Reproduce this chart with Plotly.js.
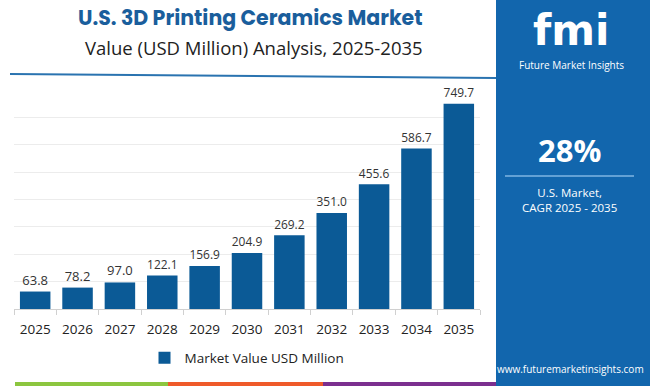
<!DOCTYPE html>
<html>
<head>
<meta charset="utf-8">
<script src="https://cdn.plot.ly/plotly-3.0.1.min.js"></script>
<style>html,body{margin:0;padding:0;background:#fff;}#chart{width:650px;height:386px;}</style>
</head>
<body>
<div id="chart"></div>
<script>
const years = ["2025","2026","2027","2028","2029","2030","2031","2032","2033","2034","2035"];
const marketValues = [63.8, 78.2, 97.0, 122.1, 156.9, 204.9, 269.2, 351.0, 455.6, 586.7, 749.7];
const seriesName = "Market Value USD Million";
const titleText = "U.S. 3D Printing Ceramics Market";
const subtitleText = "Value (USD Million) Analysis, 2025-2035";
const cagrText = "28%";
const cagrLabel = "U.S. Market,<br>CAGR 2025 - 2035";

const barColor = "#0b5a96";
const font = "Open Sans, Roboto, sans-serif";

// plot area in pixels
const L = 14, R = 170, T = 90, B = 77;
const W = 650 - L - R, H = 386 - T - B;
const px = x => (x - L) / W;
const py = y => (386 - B - y) / H;

const trace = {
  type: "bar",
  x: years,
  y: marketValues,
  name: seriesName,
  marker: {color: barColor},
  text: marketValues.map(v => v.toFixed(1)),
  textposition: "outside",
  textfont: {family: font, size: 13, color: "#333"},
  cliponaxis: false,
  showlegend: true
};

const layout = {
  width: 650, height: 386,
  margin: {l: L, r: R, t: T, b: B, autoexpand: false},
  paper_bgcolor: "#fff", plot_bgcolor: "#fff",
  bargap: 0.28,
  font: {family: font, color: "#333"},
  xaxis: {
    type: "category", automargin: false,
    showline: true, linecolor: "#d0d0d0", linewidth: 1,
    ticks: "outside", ticklen: 5, tickcolor: "#d0d0d0",
    tickson: "boundaries", ticklabelstandoff: 8,
    tickfont: {family: font, size: 13.5, color: "#222"},
    showgrid: false
  },
  yaxis: {
    range: [0, 800], showticklabels: false, showline: false, automargin: false,
    gridcolor: "#ececec", gridwidth: 1, dtick: 100, zeroline: false, fixedrange: true
  },
  showlegend: true,
  legend: {
    orientation: "h", x: px(247), xanchor: "center", xref: "paper",
    y: py(358), yanchor: "middle", bgcolor: "rgba(0,0,0,0)",
    font: {family: font, size: 13.5, color: "#222"}
  },
  shapes: [
    {type: "rect", xref: "paper", yref: "paper", x0: px(496), x1: px(660), y0: py(400), y1: py(-10),
     fillcolor: "#1266ad", line: {width: 0}, layer: "below"},
    {type: "line", xref: "paper", yref: "paper", x0: px(10), x1: px(496), y0: py(74), y1: py(78),
     line: {color: "#2a73b0", width: 2}},
    {type: "line", xref: "paper", yref: "paper", x0: px(505), x1: px(634), y0: py(176), y1: py(176),
     line: {color: "#7fb6e3", width: 1.5}},
    {type: "rect", xref: "paper", yref: "paper", x0: px(15), x1: px(168), y0: py(382), y1: py(386),
     fillcolor: "#8cc63f", line: {width: 0}},
    {type: "rect", xref: "paper", yref: "paper", x0: px(168), x1: px(323), y0: py(382), y1: py(386),
     fillcolor: "#ef5a2a", line: {width: 0}},
    {type: "rect", xref: "paper", yref: "paper", x0: px(323), x1: px(496), y0: py(382), y1: py(386),
     fillcolor: "#7b2f8f", line: {width: 0}}
  ],
  annotations: [
    {text: "<b>" + titleText + "</b>", xref: "paper", yref: "paper", x: px(250), y: py(17),
     xanchor: "center", yanchor: "middle", showarrow: false,
     font: {family: "Poppins, Open Sans, sans-serif", size: 20.5, color: "#1a5e9c"}},
    {text: subtitleText, xref: "paper", yref: "paper", x: px(254), y: py(48),
     xanchor: "center", yanchor: "middle", showarrow: false,
     font: {family: font, size: 18.5, color: "#222"}},
    {text: "<b>fmi</b>", xref: "paper", yref: "paper", x: px(571), y: py(30),
     xanchor: "center", yanchor: "middle", showarrow: false,
     font: {family: "DejaVu Sans, sans-serif", size: 42, color: "#ffffff"}},
    {text: "Future Market Insights", xref: "paper", yref: "paper", x: px(571), y: py(65),
     xanchor: "center", yanchor: "middle", showarrow: false,
     font: {family: font, size: 10, color: "#ffffff"}},
    {text: "<b>" + cagrText + "</b>", xref: "paper", yref: "paper", x: px(569), y: py(150),
     xanchor: "center", yanchor: "middle", showarrow: false,
     font: {family: font, size: 31, color: "#ffffff"}},
    {text: cagrLabel, xref: "paper", yref: "paper", x: px(569), y: py(200),
     xanchor: "center", yanchor: "middle", showarrow: false,
     font: {family: font, size: 11.5, color: "#ffffff"}},
    {text: "www.futuremarketinsights.com", xref: "paper", yref: "paper", x: px(570), y: py(369),
     xanchor: "center", yanchor: "middle", showarrow: false,
     font: {family: font, size: 10, color: "#ffffff"}}
  ]
};

Plotly.newPlot("chart", [trace], layout, {displayModeBar: false, staticPlot: true});
</script>
</body>
</html>
